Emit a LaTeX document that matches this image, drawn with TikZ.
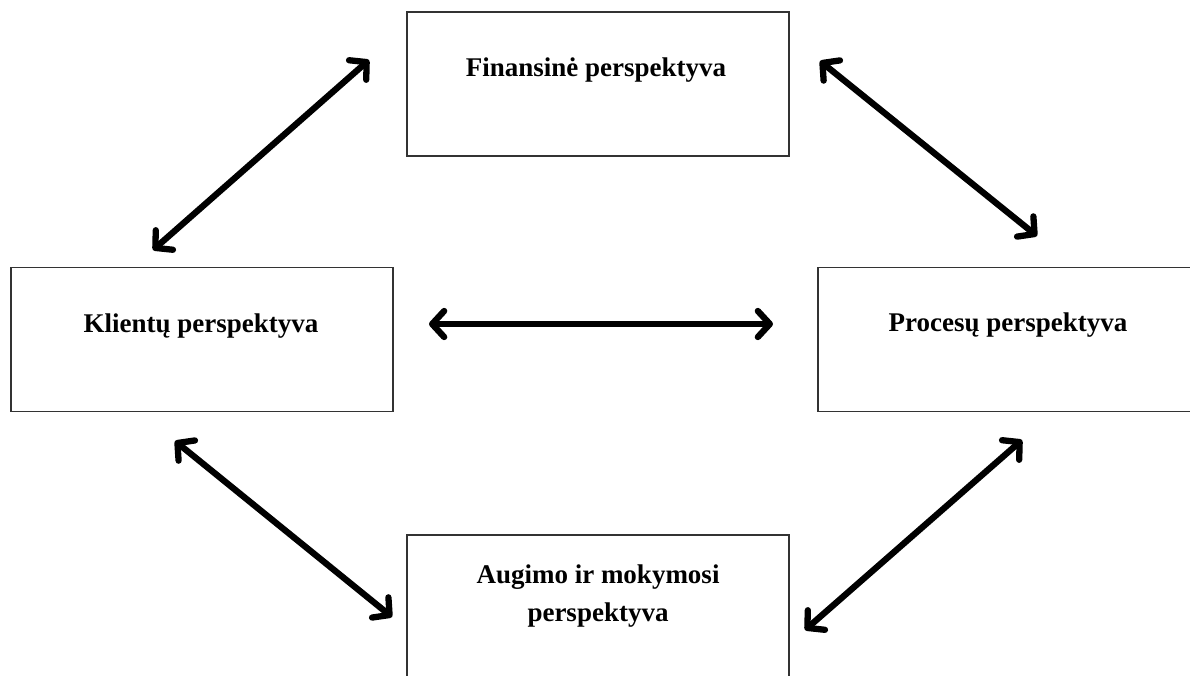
\documentclass[tikz,border=0pt]{standalone}
\usepackage{fontspec}
\setmainfont{Liberation Serif}
\usetikzlibrary{arrows.meta}
\begin{document}
\begin{tikzpicture}[x=1pt,y=-1pt,
  box/.style={draw=black!80, line width=1.8pt, minimum width=382pt, minimum height=144pt, inner sep=0pt, fill=white},
  lbl/.style={font=\fontsize{27}{38}\selectfont\bfseries, inner sep=0pt, anchor=base, align=center},
  link/.style={line width=6.3pt, line cap=round, {Straight Barb[length=12pt,width=26pt,line cap=round,line join=round]}-{Straight Barb[length=12pt,width=26pt,line cap=round,line join=round]}}]
\clip (0,0) rectangle (1190,675);
\useasboundingbox (0,0) rectangle (1190,675);
\fill[white] (0,0) rectangle (1190,675);
% boxes
\node[box] (fin) at (598,84) {};
\node[box] (kli) at (202,339.5) {};
\node[box] (pro) at (1009,339.5) {};
\node[box] (aug) at (598,607) {};
% labels
\node[lbl] (finT) at (596,76) {Finansinė perspektyva};
\node[lbl] (kliT) at (201,332) {Klientų perspektyva};
\node[lbl] (proT) at (1008,331) {Procesų perspektyva};
\node[lbl] (augT1) at (598,583) {Augimo ir mokymosi};
\node[lbl] (augT2) at (598,621) {perspektyva};
% arrow end points
\coordinate (a1) at (153,250); \coordinate (a2) at (369,60);
\coordinate (b1) at (820,61);  \coordinate (b2) at (1037,236);
\coordinate (c1) at (429,324); \coordinate (c2) at (773,324);
\coordinate (d1) at (175,441); \coordinate (d2) at (392,617);
\coordinate (e1) at (805,630); \coordinate (e2) at (1022,440);
\draw[link] (a1) -- (a2);
\draw[link] (b1) -- (b2);
\draw[link] (c1) -- (c2);
\draw[link] (d1) -- (d2);
\draw[link] (e1) -- (e2);
\end{tikzpicture}
\end{document}
